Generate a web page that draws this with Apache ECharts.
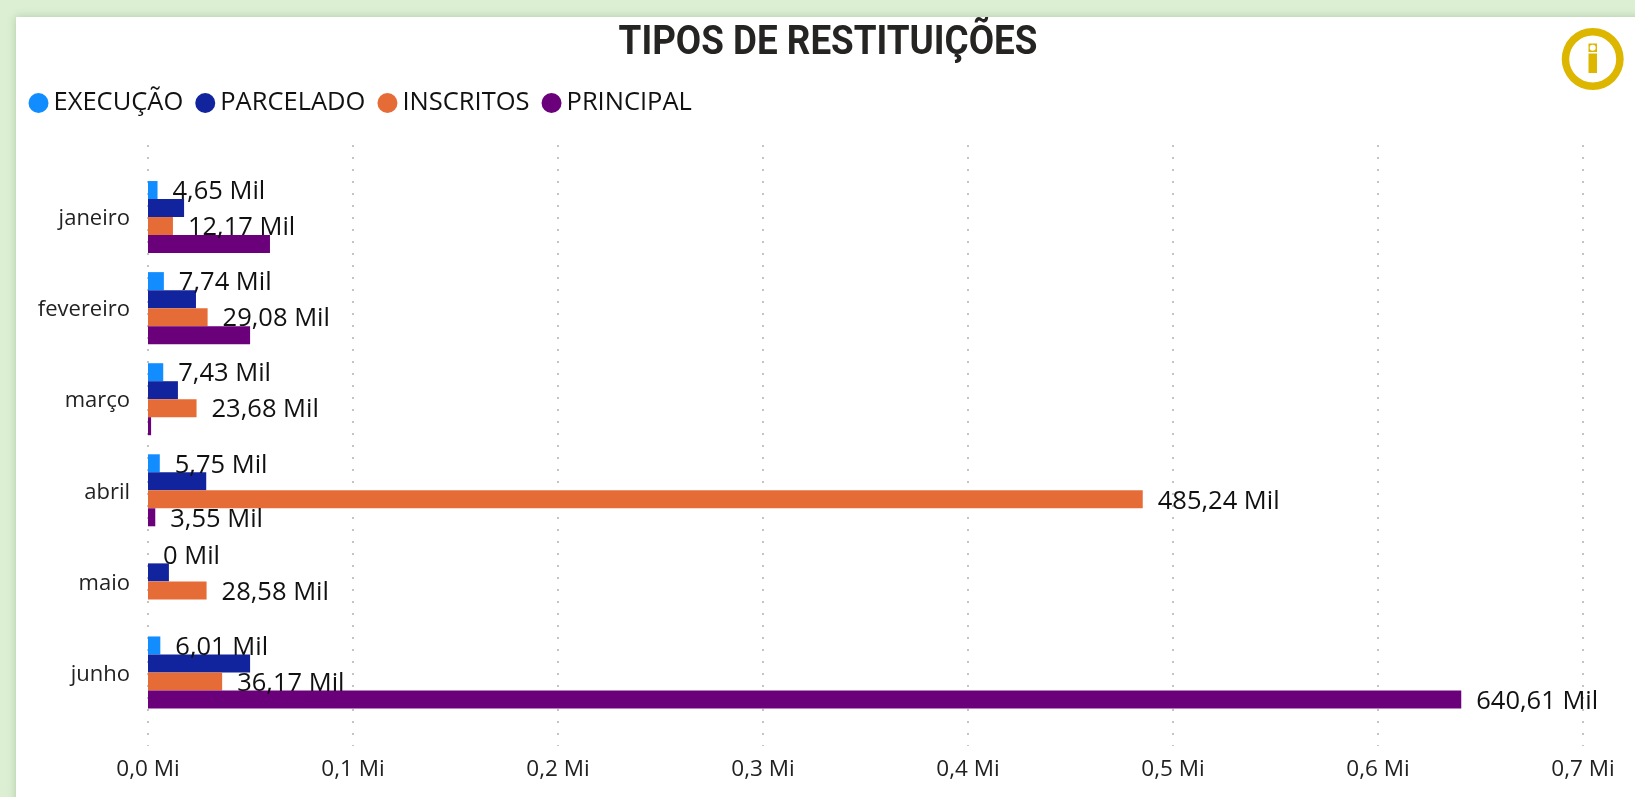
<!DOCTYPE html>
<html lang="pt">
<head>
<meta charset="utf-8">
<style>html,body{margin:0;padding:0;background:#dcefd3}#c{width:1635px;height:797px}</style>
<script src="https://cdn.jsdelivr.net/npm/echarts@6/dist/echarts.min.js"></script>
</head>
<body>
<div id="c"></div>
<script>
const titleText = 'TIPOS DE RESTITUIÇÕES';
const months = ['janeiro','fevereiro','março','abril','maio','junho'];
const seriesNames = ['EXECUÇÃO','PARCELADO','INSCRITOS','PRINCIPAL'];
const seriesColors = ['#118DFF','#12239E','#E66C37','#6B007B'];
// values in thousands ("Mil")
const execucao  = [4.65, 7.74, 7.43, 5.75, 0, 6.01];
const parcelado = [17.6, 23.4, 14.6, 28.4, 10.2, 49.8];
const inscritos = [12.17, 29.08, 23.68, 485.24, 28.58, 36.17];
const principal = [59.5, 49.8, 1.5, 3.55, null, 640.61];
// which bars carry a data label in the picture
const execucaoLabels  = [true, true, true, true, true, true];
const parceladoLabels = [false, false, false, false, false, false];
const inscritosLabels = [true, true, true, true, true, true];
const principalLabels = [false, false, false, true, false, true];

const allValues = [execucao, parcelado, inscritos, principal];
const allLabels = [execucaoLabels, parceladoLabels, inscritosLabels, principalLabels];

const FONT = '"Open Sans","Noto Sans",sans-serif';
const fmtMil = v => (v === 0 ? '0' : v.toFixed(2).replace('.', ',')) + ' Mil';
const fmtMi = v => (v / 1000).toFixed(1).replace('.', ',') + ' Mi';

const chart = echarts.init(document.getElementById('c'), null, {renderer: 'canvas'});
chart.setOption({
  animation: false,
  backgroundColor: '#dcefd3',
  legend: {
    left: 23.5, top: 85, itemWidth: 20, itemHeight: 20, itemGap: 12, icon: 'circle',
    data: seriesNames,
    textStyle: {fontFamily: FONT, fontSize: 25.5, color: '#111'},
    selectedMode: false
  },
  grid: [
    {left: 148, right: 52, top: 145, bottom: 51},
    {left: 148, right: 52, top: 171.5, bottom: 79}
  ],
  xAxis: [
    {gridIndex: 0, type: 'value', min: 0, max: 700, interval: 100,
      axisLine: {show: false}, axisTick: {show: false},
      axisLabel: {formatter: fmtMi, fontFamily: FONT, fontSize: 22.5, color: '#222', margin: 12},
      splitLine: {show: true, lineStyle: {color: '#c4c4c4', width: 2, type: [2, 10]}}},
    {gridIndex: 1, type: 'value', min: 0, max: 700, interval: 100, show: false, splitLine: {show: false}}
  ],
  yAxis: [
    {gridIndex: 0, type: 'category', data: [''], show: false},
    {gridIndex: 1, type: 'category', inverse: true, data: months,
      axisLine: {show: false}, axisTick: {show: false},
      axisLabel: {fontFamily: FONT, fontSize: 22, color: '#222', margin: 18, verticalAlign: 'top', lineHeight: 4},
      splitLine: {show: false}}
  ],
  series: seriesNames.map((name, i) => ({
    name, type: 'bar', xAxisIndex: 1, yAxisIndex: 1,
    barWidth: 18, barGap: 0,
    itemStyle: {color: seriesColors[i]},
    data: allValues[i].map((v, k) => ({
      value: v,
      label: {
        show: allLabels[i][k], position: 'right', distance: 15, offset: [0, 2],
        formatter: p => fmtMil(p.value),
        fontFamily: FONT, fontSize: 25.5, color: '#111'
      }
    }))
  })),
  graphic: [
    {type: 'rect', z: -10, silent: true, shape: {x: 16, y: 17, width: 1640, height: 800},
      style: {fill: '#fff', shadowBlur: 8, shadowColor: 'rgba(120,160,110,0.45)'}},
    {type: 'text', z: 10, silent: true, x: 828, y: 44, scaleX: 0.92,
      style: {text: titleText, align: 'center', verticalAlign: 'middle',
        font: 'bold 40px Roboto, sans-serif', fill: '#252423'}},
    {type: 'ring', z: 10, silent: true, shape: {cx: 1592.7, cy: 59, r: 31, r0: 23.5}, style: {fill: '#DDB600'}},
    {type: 'rect', z: 10, silent: true, shape: {x: 1588.5, y: 53.5, width: 8.5, height: 19.5}, style: {fill: '#DDB600'}},
    {type: 'rect', z: 10, silent: true, shape: {x: 1588.5, y: 43.5, width: 8.5, height: 8.5}, style: {fill: '#DDB600'}},
    {type: 'circle', z: 11, silent: true, shape: {cx: 1592.7, cy: 47.7, r: 3}, style: {fill: '#fff'}}
  ]
});
</script>
</body>
</html>
